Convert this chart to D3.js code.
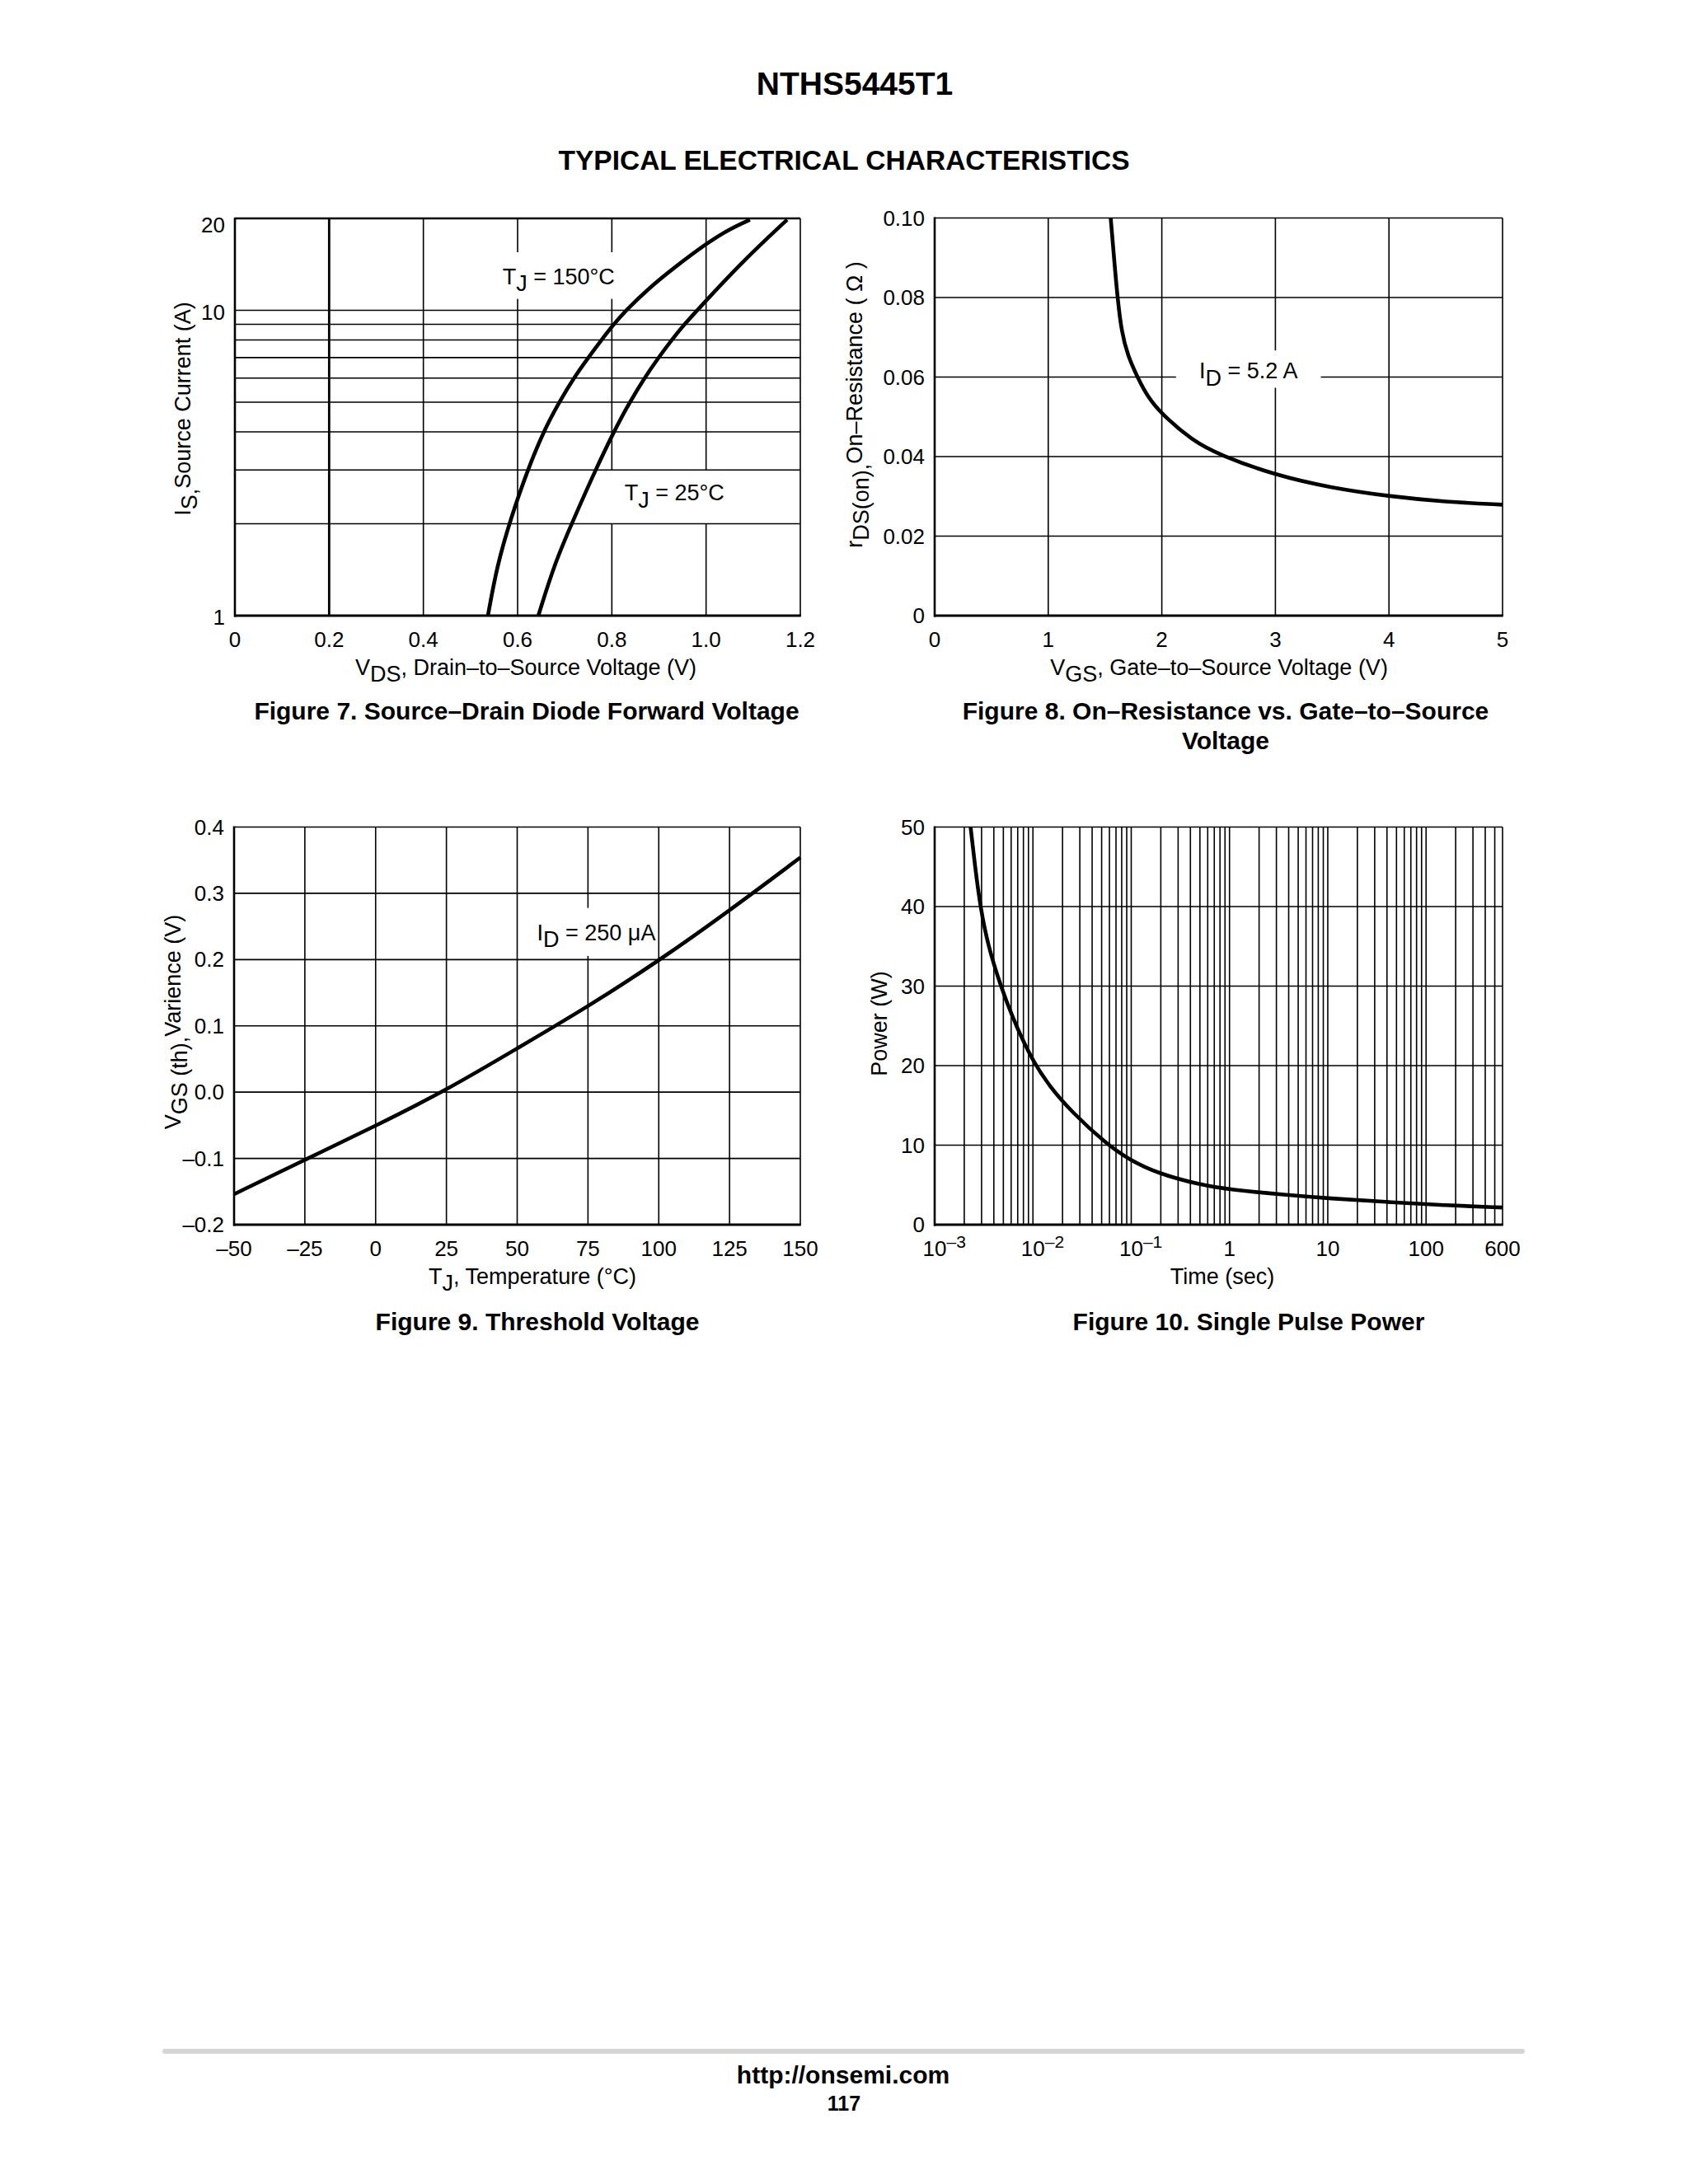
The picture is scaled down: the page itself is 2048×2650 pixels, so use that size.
<!DOCTYPE html>
<html><head><meta charset="utf-8">
<script src="https://cdn.jsdelivr.net/npm/d3@7"></script>
<style>
body{margin:0;background:#fff}
text{font-family:"Liberation Sans",Arial,Helvetica,sans-serif;fill:#000}
</style>
</head><body><script>
// ---------------- DATA ----------------
// Figure 7: Source-Drain Diode Forward Voltage
const fig7VdsTicks = [0, 0.2, 0.4, 0.6, 0.8, 1.0, 1.2];
const fig7VdsLabels = ["0", "0.2", "0.4", "0.6", "0.8", "1.0", "1.2"];
const fig7IsTicks = [1, 10, 20];
const fig7IsLabels = ["1", "10", "20"];
const fig7IsGrid = [2, 3, 4, 5, 6, 7, 8, 9, 10];
const fig7Vds150 = [0.537, 0.556, 0.585, 0.621, 0.658, 0.688, 0.722, 0.750, 0.778, 0.804, 0.830, 0.878, 0.935, 1.002, 1.048, 1.093];
const fig7Is150  = [1.0, 1.45, 2.07, 3.0, 4.1, 5.0, 6.1, 7.0, 8.0, 9.0, 10.0, 11.8, 13.9, 16.6, 18.4, 19.8];
const fig7Vds25 = [0.644, 0.679, 0.719, 0.764, 0.806, 0.838, 0.869, 0.899, 0.927, 0.954, 0.981, 1.076, 1.172];
const fig7Is25  = [1.0, 1.49, 2.07, 2.97, 4.06, 5.0, 6.0, 7.0, 8.0, 9.0, 10.0, 14.4, 19.8];

// Figure 8: On-Resistance vs Gate-to-Source Voltage
const fig8VgsTicks = [0, 1, 2, 3, 4, 5];
const fig8VgsLabels = ["0", "1", "2", "3", "4", "5"];
const fig8RTicks = [0, 0.02, 0.04, 0.06, 0.08, 0.10];
const fig8RLabels = ["0", "0.02", "0.04", "0.06", "0.08", "0.10"];
const fig8Vgs = [1.55, 1.585, 1.61, 1.645, 1.70, 1.785, 1.87, 1.99, 2.27, 2.51, 3.0, 3.48, 4.0, 4.5, 5.0];
const fig8R   = [0.100, 0.088, 0.080, 0.0714, 0.0654, 0.060, 0.0553, 0.0509, 0.0440, 0.0404, 0.0353, 0.0322, 0.0300, 0.0286, 0.0279];

// Figure 9: Threshold Voltage
const fig9TjTicks = [-50, -25, 0, 25, 50, 75, 100, 125, 150];
const fig9TjLabels = ["\u201350", "\u201325", "0", "25", "50", "75", "100", "125", "150"];
const fig9VTicks = [-0.2, -0.1, 0.0, 0.1, 0.2, 0.3, 0.4];
const fig9VLabels = ["\u20130.2", "\u20130.1", "0.0", "0.1", "0.2", "0.3", "0.4"];
const fig9Tj = [-50, -25, 0, 25, 50, 75, 100, 125, 150];
const fig9V  = [-0.154, -0.102, -0.051, 0.003, 0.066, 0.129, 0.198, 0.274, 0.354];

// Figure 10: Single Pulse Power
const fig10TimeTicks = [0.001, 0.01, 0.1, 1, 10, 100, 600];
const fig10TimeBase = ["10", "10", "10", "1", "10", "100", "600"];
const fig10TimeExp  = ["\u20133", "\u20132", "\u20131", "", "", "", ""];
const fig10PTicks = [0, 10, 20, 30, 40, 50];
const fig10PLabels = ["0", "10", "20", "30", "40", "50"];
const fig10Time = [0.00232, 0.00259, 0.00291, 0.0035, 0.0047, 0.00625, 0.00775, 0.0100, 0.0147, 0.0247, 0.0552, 0.0944, 0.185, 0.506, 0.99, 3.78, 10.3, 39.5, 151, 600];
const fig10P    = [50, 44.8, 40, 35, 30, 26, 23.4, 20.6, 17.4, 14.2, 10.2, 8.2, 6.45, 5.0, 4.43, 3.73, 3.31, 2.86, 2.44, 2.16];

// ---------------- DRAWING ----------------
const W = 2048, H = 2650;
const svg = d3.select("body").append("svg").attr("width", W).attr("height", H);
svg.append("rect").attr("width", W).attr("height", H).attr("fill", "#fff");

const TICK_FS = 26, TITLE_FS = 27, NOTE_FS = 27, CAP_FS = 30;

function richText(g, parts, attrs) {
  const t = g.append("text");
  Object.entries(attrs).forEach(([k, v]) => t.attr(k, v));
  let shift = 0;
  parts.forEach(p => {
    const target = p.sub ? 0.3 : (p.sup ? -0.45 : 0);
    const s = t.append("tspan").text(p.t);
    if (target !== shift) { s.attr("dy", (target - shift) + "em"); shift = target; }
  });
  return t;
}

function panel(cfg) {
  const g = svg.append("g");
  const x = cfg.x, y = cfg.y;
  const [xl, xr] = x.range();
  const [yb, yt] = y.range();
  const gridW = 1.6;

  cfg.xGrid.forEach(v => {
    g.append("line").attr("x1", x(v)).attr("x2", x(v)).attr("y1", yb).attr("y2", yt)
      .attr("stroke", "#000").attr("stroke-width", cfg.xGridWidth ? cfg.xGridWidth(v) : gridW);
  });
  const drawMasks = (under) => (cfg.masks || []).filter(m => !!m.underH === under).forEach(m => {
    g.append("rect").attr("x", x(m.x0)).attr("y", y(m.y1))
      .attr("width", x(m.x1) - x(m.x0)).attr("height", y(m.y0) - y(m.y1)).attr("fill", "#fff");
  });
  drawMasks(true);
  cfg.yGrid.forEach(v => {
    g.append("line").attr("x1", xl).attr("x2", xr).attr("y1", y(v)).attr("y2", y(v))
      .attr("stroke", "#000").attr("stroke-width", gridW);
  });
  drawMasks(false);
  g.append("line").attr("x1", xl).attr("x2", xr).attr("y1", yt).attr("y2", yt).attr("stroke", "#000").attr("stroke-width", cfg.topW || gridW);
  g.append("line").attr("x1", xr).attr("x2", xr).attr("y1", yt).attr("y2", yb).attr("stroke", "#000").attr("stroke-width", gridW);
  g.append("line").attr("x1", xl).attr("x2", xl).attr("y1", yt - 1).attr("y2", yb + 1.5).attr("stroke", "#000").attr("stroke-width", 2.6);
  g.append("line").attr("x1", xl - 1).attr("x2", xr + 0.8).attr("y1", yb).attr("y2", yb).attr("stroke", "#000").attr("stroke-width", 3.2);

  cfg.series.forEach(s => {
    const pts = s.xs.map((v, i) => [v, s.ys[i]]);
    const line = d3.line().x(d => x(d[0])).y(d => y(d[1])).curve(d3.curveBasis);
    g.append("path").attr("d", line(pts)).attr("fill", "none").attr("stroke", "#000")
      .attr("stroke-width", 4.6).attr("stroke-linecap", "butt").attr("stroke-linejoin", "round");
  });

  if (cfg.xLabelFn) cfg.xLabelFn(g);
  else cfg.xTicks.forEach((v, i) => {
    g.append("text").attr("x", x(v)).attr("y", yb + 38).attr("text-anchor", "middle")
      .attr("font-size", TICK_FS).text(cfg.xLabels[i]);
  });
  cfg.yTicks.forEach((v, i) => {
    g.append("text").attr("x", xl - 12).attr("y", y(v) + 9 + (cfg.yLabelOff ? cfg.yLabelOff(v) : 0))
      .attr("text-anchor", "end").attr("font-size", TICK_FS).text(cfg.yLabels[i]);
  });

  (cfg.notes || []).forEach(n => {
    richText(g, n.parts, { x: x(n.x), y: y(n.y), "font-size": NOTE_FS });
  });

  richText(g, cfg.xTitle, { x: cfg.xTitlePos[0], y: cfg.xTitlePos[1], "text-anchor": "middle", "font-size": TITLE_FS });
  richText(g, cfg.yTitle, { transform: `translate(${cfg.yTitlePos[0]},${cfg.yTitlePos[1]}) rotate(-90)`, "text-anchor": "middle", "font-size": TITLE_FS });

  cfg.caption.forEach((c, i) => {
    g.append("text").attr("x", cfg.captionPos[0]).attr("y", cfg.captionPos[1] + i * 36)
      .attr("text-anchor", "middle").attr("font-size", CAP_FS).attr("font-weight", "bold").text(c);
  });
}

// ---- Figure 7 ----
panel({
  x: d3.scaleLinear().domain([0, 1.2]).range([285, 971]),
  y: d3.scaleLog().domain([1, 20]).range([747, 265]),
  xGrid: [0.2, 0.4, 0.6, 0.8, 1.0],
  xGridWidth: v => (v === 0.2 ? 2.8 : 1.6),
  yGrid: fig7IsGrid,
  topW: 2.4,
  xTicks: fig7VdsTicks, xLabels: fig7VdsLabels,
  yTicks: fig7IsTicks, yLabels: fig7IsLabels,
  yLabelOff: v => (v === 20 ? 8 : 2),
  masks: [
    { x0: 0.551, x1: 0.814, y0: 10.9, y1: 15.5, underH: true },
    { x0: 0.786, x1: 1.075, y0: 2.0, y1: 3.0, underH: true }
  ],
  series: [{ xs: fig7Vds150, ys: fig7Is150 }, { xs: fig7Vds25, ys: fig7Is25 }],
  notes: [
    { x: 0.568, y: 12.2, parts: [{ t: "T" }, { t: "J", sub: true }, { t: " = 150\u00B0C" }] },
    { x: 0.827, y: 2.38, parts: [{ t: "T" }, { t: "J", sub: true }, { t: " = 25\u00B0C" }] }
  ],
  xTitle: [{ t: "V" }, { t: "DS", sub: true }, { t: ", Drain\u2013to\u2013Source Voltage (V)" }],
  xTitlePos: [638, 819],
  yTitle: [{ t: "I" }, { t: "S,", sub: true }, { t: "Source Current (A)" }],
  yTitlePos: [231, 496],
  caption: ["Figure 7. Source\u2013Drain Diode Forward Voltage"],
  captionPos: [639, 873]
});

// ---- Figure 8 ----
panel({
  x: d3.scaleLinear().domain([0, 5]).range([1134, 1823]),
  y: d3.scaleLinear().domain([0, 0.10]).range([747, 264.5]),
  xGrid: [1, 2, 3, 4],
  yGrid: [0.02, 0.04, 0.06, 0.08],
  xTicks: fig8VgsTicks, xLabels: fig8VgsLabels,
  yTicks: fig8RTicks, yLabels: fig8RLabels,
  masks: [{ x0: 2.125, x1: 3.40, y0: 0.0573, y1: 0.0667 }],
  series: [{ xs: fig8Vgs, ys: fig8R }],
  notes: [{ x: 2.33, y: 0.0596, parts: [{ t: "I" }, { t: "D", sub: true }, { t: " = 5.2 A" }] }],
  xTitle: [{ t: "V" }, { t: "GS", sub: true }, { t: ", Gate\u2013to\u2013Source Voltage (V)" }],
  xTitlePos: [1479, 819],
  yTitle: [{ t: "r" }, { t: "DS(on),", sub: true }, { t: "On\u2013Resistance ( \u03A9 )" }],
  yTitlePos: [1046, 491],
  caption: ["Figure 8. On\u2013Resistance vs. Gate\u2013to\u2013Source", "Voltage"],
  captionPos: [1487, 873]
});

// ---- Figure 9 ----
panel({
  x: d3.scaleLinear().domain([-50, 150]).range([284, 971]),
  y: d3.scaleLinear().domain([-0.2, 0.4]).range([1486, 1003.5]),
  xGrid: [-25, 0, 25, 50, 75, 100, 125],
  yGrid: [-0.1, 0.0, 0.1, 0.2, 0.3],
  xTicks: fig9TjTicks, xLabels: fig9TjLabels,
  yTicks: fig9VTicks, yLabels: fig9VLabels,
  masks: [{ x0: 68, x1: 82, y0: 0.2055, y1: 0.278 }],
  series: [{ xs: fig9Tj, ys: fig9V }],
  notes: [{ x: 57.0, y: 0.229, parts: [{ t: "I" }, { t: "D", sub: true }, { t: " = 250 \u03BCA" }] }],
  xTitle: [{ t: "T" }, { t: "J", sub: true }, { t: ", Temperature (\u00B0C)" }],
  xTitlePos: [646, 1558],
  yTitle: [{ t: "V" }, { t: "GS (th),", sub: true }, { t: "Varience (V)" }],
  yTitlePos: [219, 1240],
  caption: ["Figure 9. Threshold Voltage"],
  captionPos: [652, 1614]
});

// ---- Figure 10 ----
const x10 = d3.scaleLog().domain([0.001, 600]).range([1134, 1823]);
panel({
  x: x10,
  y: d3.scaleLinear().domain([0, 50]).range([1486, 1003.5]),
  xGrid: x10.ticks().filter(v => v > 0.001 && v < 600),
  yGrid: [10, 20, 30, 40],
  yTicks: fig10PTicks, yLabels: fig10PLabels,
  xLabelFn: g => {
    fig10TimeTicks.forEach((v, i) => {
      const t = g.append("text").attr("x", x10(v)).attr("y", 1486 + 38).attr("text-anchor", "middle")
        .attr("font-size", TICK_FS).text(fig10TimeBase[i]);
      if (fig10TimeExp[i]) {
        const w = t.node().getComputedTextLength();
        g.append("text").attr("x", x10(v) + w / 2).attr("y", 1486 + 38 - 10)
          .attr("font-size", 21).text(fig10TimeExp[i]);
      }
    });
  },
  series: [{ xs: fig10Time, ys: fig10P }],
  xTitle: [{ t: "Time (sec)" }],
  xTitlePos: [1483, 1558],
  yTitle: [{ t: "Power (W)" }],
  yTitlePos: [1076, 1242],
  caption: ["Figure 10. Single Pulse Power"],
  captionPos: [1515, 1614]
});

// ---- Page header / footer ----
svg.append("text").attr("x", 1037).attr("y", 115).attr("text-anchor", "middle")
  .attr("font-size", 39).attr("font-weight", "bold").text("NTHS5445T1");
svg.append("text").attr("x", 1024).attr("y", 206).attr("text-anchor", "middle")
  .attr("font-size", 33.5).attr("font-weight", "bold").text("TYPICAL ELECTRICAL CHARACTERISTICS");
svg.append("line").attr("x1", 200).attr("x2", 1847).attr("y1", 2489).attr("y2", 2489)
  .attr("stroke", "#d6d6d6").attr("stroke-width", 6).attr("stroke-linecap", "round");
svg.append("text").attr("x", 1023).attr("y", 2528).attr("text-anchor", "middle")
  .attr("font-size", 30).attr("font-weight", "bold").text("http://onsemi.com");
svg.append("text").attr("x", 1024).attr("y", 2561).attr("text-anchor", "middle")
  .attr("font-size", 25).attr("font-weight", "bold").text("117");
</script></body></html>
